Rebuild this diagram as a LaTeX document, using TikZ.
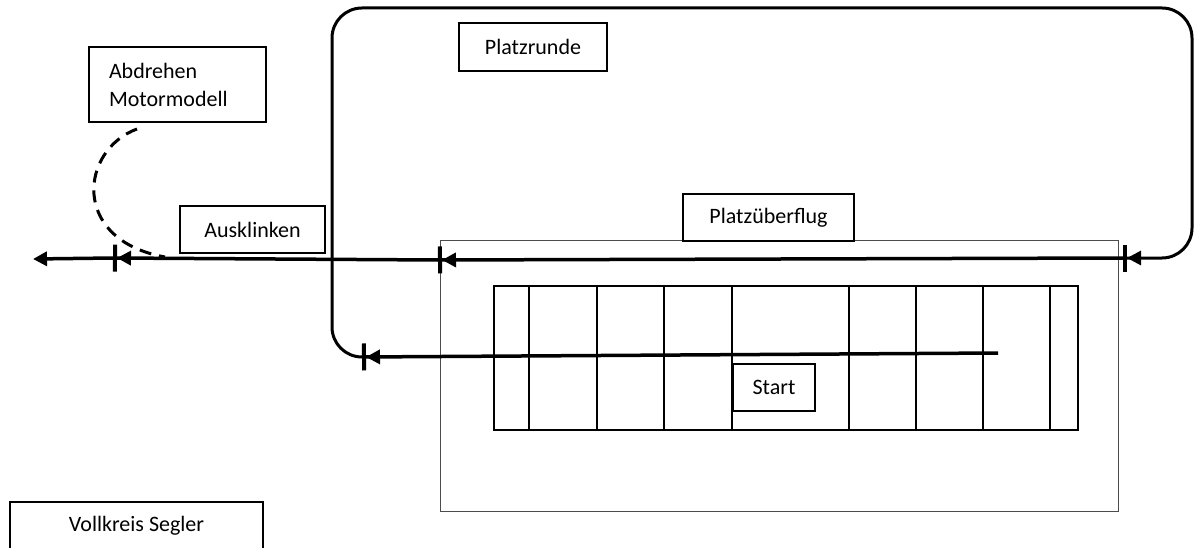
\documentclass[tikz,border=0pt]{standalone}
\usepackage{fontspec}
\setmainfont{Carlito}
\usetikzlibrary{arrows.meta}
\begin{document}
\begin{tikzpicture}[x=1pt,y=-1pt,
  lbl/.style={draw=black,line width=1.3pt,inner sep=0pt,outer sep=0pt,anchor=north west,
    font=\fontsize{22}{28}\selectfont,align=center},
  flight/.style={line width=3.5pt,black},
  loopline/.style={line width=3pt,black,rounded corners=30pt},
  tickarrow/.style={-{Triangle[length=14pt,width=14pt]Bar[width=27pt,line width=4pt]}},
  endarrow/.style={-{Triangle[length=14pt,width=14pt]}},
  dashline/.style={line width=3pt,dash pattern=on 12pt off 8pt},
  grid/.style={line width=2pt,black},
  field/.style={draw=black!70,line width=1pt}
]
\useasboundingbox (0,0) rectangle (1196,548);

% field of overflight
\node[field,inner sep=0pt,outer sep=0pt,anchor=north west,minimum width=678pt,minimum height=271pt] (feld) at (440,240) {};

% runway grid
\node[draw=black,line width=2pt,inner sep=0pt,outer sep=0pt,anchor=north west,minimum width=584pt,minimum height=144pt] (bahn) at (494,286) {};
\foreach \x in {529,597,664,732,849,916,983,1050}
  \draw[grid] (\x,286) -- (\x,430);

% labels
\node[lbl,minimum width=177pt,minimum height=75pt,text width=137pt,align=left,inner xsep=20pt] (abd) at (89,47) {Abdrehen\\Motormodell};
\node[lbl,minimum width=145pt,minimum height=47pt] (aus) at (180,206) {Ausklinken};
\node[lbl,minimum width=148pt,minimum height=48pt] (prunde) at (459,23) {Platzrunde};
\node[lbl,minimum width=171pt,minimum height=47pt,fill=white] (pueber) at (683,194) {Platzüberflug};
\node[lbl,minimum width=82pt,minimum height=47pt,fill=white] (start) at (733,364) {Start};
\node[lbl,minimum width=253pt,minimum height=48pt] (voll) at (10,502) {Vollkreis Segler};

% flight path coordinates
\coordinate (s1) at (998,353);
\coordinate (t1) at (362,357);
\coordinate (t2) at (1123,258);
\coordinate (t3) at (438,260);
\coordinate (t4) at (113,258);
\coordinate (tend) at (33,259);
\coordinate (d1) at (137,129);
\coordinate (d2) at (165,257);

% start run
\draw[flight,tickarrow] (s1) -- (t1);
% Platzrunde loop
\draw[loopline,tickarrow] (t1) -- (332,357) -- (332,8) -- (1192,8) -- (1192,258) -- (t2);
% overflight
\draw[flight,tickarrow] (t2) -- (t3);
\draw[flight,tickarrow] (t3) -- (t4);
\draw[flight,endarrow] (t4) -- (tend);
% turn-off of the motor model
\draw[dashline] (d1) .. controls (80,150) and (70,240) .. (d2);
\end{tikzpicture}
\end{document}
